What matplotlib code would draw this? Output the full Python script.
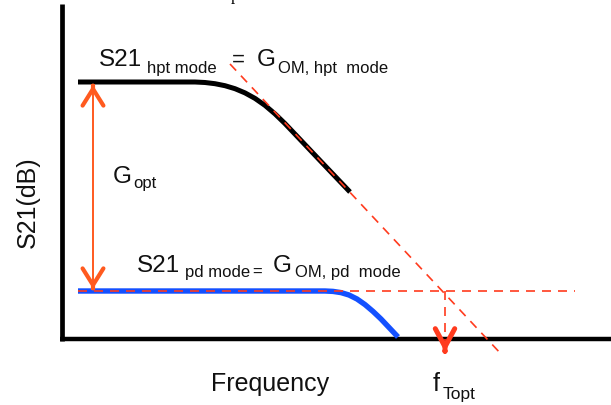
import matplotlib
matplotlib.use('Agg')
from matplotlib import pyplot as plt

# Schets van S21 tegen frequentie, alles in beeldpunten (x naar rechts, y naar beneden)

# kromme in hpt mode (zwart)
hpt_x = [78, 195, 205, 215, 225, 235, 245, 255, 265, 275, 285, 295, 320, 350]
hpt_y = [82, 82, 82.5, 83.7, 85.7, 88.7, 92.9, 98.4, 105.4, 113.9, 123.6, 134.1, 160.5, 192]

# kromme in pd mode (blauw)
pd_x = [78, 325, 333, 341, 349, 357, 365, 373, 381, 398]
pd_y = [291, 291, 291.4, 292.6, 295, 299, 304.6, 311.4, 319, 337]

# hulplijnen (rood gestreept)
asymptoot_x = [230, 502]
asymptoot_y = [64, 355]
niveau_x = [78, 575]
niveau_y = [291, 291]
ftopt_x = [445, 445]
ftopt_y = [291, 344]

# assen
yas_x = [61.5, 61.5]
yas_y = [4, 341]
xas_x = [60, 611]
xas_y = [339, 339]

# dubbele pijl G_opt
gopt_x = 93
gopt_y = [85, 289]
ftopt_pijl = 352

oranje = '#ff5a1f'
rood = '#ff3b1e'
blauw = '#1450ff'
font = 'Liberation Sans'

fig = plt.figure(figsize=(6.11, 4.05), dpi=100)
ax = fig.add_axes([0, 0, 1, 1])
ax.set_xlim(0, 611)
ax.set_ylim(405, 0)
ax.axis('off')

# assen tekenen
ax.plot(yas_x, yas_y, color='black', lw=3.4, solid_capstyle='butt')
ax.plot(xas_x, xas_y, color='black', lw=3.2, solid_capstyle='butt')

# krommen
ax.plot(pd_x, pd_y, color=blauw, lw=3.9, solid_capstyle='butt', solid_joinstyle='round')
ax.plot(hpt_x, hpt_y, color='black', lw=3.6, solid_capstyle='butt', solid_joinstyle='round')

# gestreepte hulplijnen
streep = (0, (5.4, 4.2))
ax.plot(niveau_x, niveau_y, color=rood, lw=1.2, linestyle=streep)
ax.plot(asymptoot_x, asymptoot_y, color=rood, lw=1.2, linestyle=streep)
ax.plot(ftopt_x, ftopt_y, color=rood, lw=1.2, linestyle=streep)

# pijlpunt bij f_Topt
ax.annotate('', xy=(ftopt_x[0], ftopt_pijl), xytext=(ftopt_x[0], ftopt_pijl - 1),
            arrowprops=dict(arrowstyle='->,head_length=1.3,head_width=0.7',
                            color=rood, lw=3.6, shrinkA=0, shrinkB=0))

# dubbele pijl: dunne steel en twee dikke punten
ax.plot([gopt_x, gopt_x], gopt_y, color=oranje, lw=1.4)
ax.annotate('', xy=(gopt_x, gopt_y[0]), xytext=(gopt_x, gopt_y[0] + 1),
            arrowprops=dict(arrowstyle='->,head_length=1.2,head_width=0.75',
                            color=oranje, lw=3, shrinkA=0, shrinkB=0))
ax.annotate('', xy=(gopt_x, gopt_y[1]), xytext=(gopt_x, gopt_y[1] - 1),
            arrowprops=dict(arrowstyle='->,head_length=1.2,head_width=0.75',
                            color=oranje, lw=3, shrinkA=0, shrinkB=0))

# teksten, stuk voor stuk op de basislijn
def tekst(x, y, s, size):
    ax.text(x, y, s, fontsize=size, family=font, color='#111111',
            ha='left', va='baseline')

tekst(99, 66, 'S21', 17.5)
tekst(147, 73, 'hpt mode', 12)
tekst(232, 66, '=', 16)
tekst(257, 66, 'G', 17.5)
tekst(278, 73, 'OM, hpt  mode', 12)

tekst(113, 183, 'G', 17.5)
tekst(133, 188, 'opt', 12)

tekst(137, 272, 'S21', 17.5)
tekst(185, 277, 'pd mode', 12)
tekst(252, 277, '=', 12)
tekst(273, 272, 'G', 17.5)
tekst(295, 277, 'OM, pd  mode', 12)

tekst(211, 391, 'Frequency', 18)
tekst(433, 391, 'f', 18)
tekst(443, 399, 'Topt', 12.5)

ax.text(28, 202.5, 'S21(dB)', fontsize=18, family=font, color='#111111',
        rotation=90, ha='center', va='center')

# stukje van een afgesneden bijschrift bovenaan (zoals in het origineel)
ax.text(231, -0.5, 'p', fontsize=12, family='Liberation Serif', color='black',
        ha='left', va='baseline')

plt.savefig('out.png', dpi=100)
